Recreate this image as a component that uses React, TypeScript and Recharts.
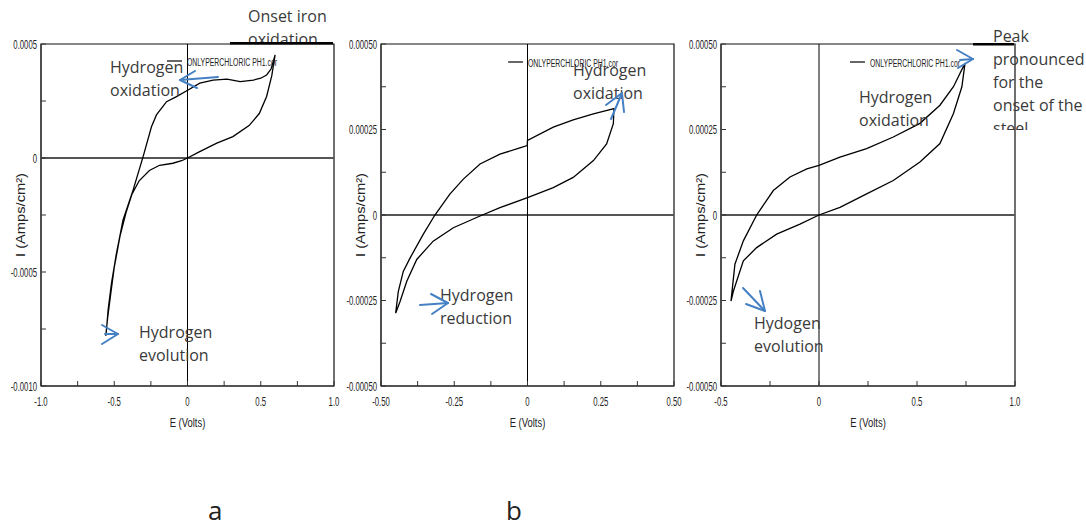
import React from "react";
import { LineChart, Line, XAxis, YAxis, ReferenceLine, ReferenceArea, Label } from "recharts";

// panel a: potential (V) and current (A/cm2), forward scan then return scan
const aE = [-0.558, -0.545, -0.525, -0.5, -0.46, -0.42, -0.38, -0.33, -0.26, -0.19, -0.1, -0.04, 0, 0.08, 0.2, 0.31, 0.42, 0.49, 0.54, 0.575, 0.598,
  0.57, 0.54, 0.5, 0.45, 0.36, 0.27, 0.175, 0.084, 0.004, -0.075, -0.143, -0.212, -0.246, -0.303, -0.371, -0.394, -0.44, -0.485, -0.519, -0.542, -0.553, -0.558];
const aI = [-0.00078, -0.0007, -0.0006, -0.00048, -0.00034, -0.00024, -0.00016, -0.0001, -0.000055, -0.000032, -0.000023, -0.000012, 0, 0.000027, 0.000065, 0.000094, 0.000142, 0.000195, 0.00027, 0.00036, 0.000452,
  0.00039, 0.000364, 0.00035, 0.000342, 0.000335, 0.000346, 0.000342, 0.000328, 0.000298, 0.000269, 0.000247, 0.000189, 0.000137, 0.000006, -0.00014, -0.000184, -0.000272, -0.000418, -0.00055, -0.000667, -0.000754, -0.00078];

// panel b
const bE = [-0.45, -0.435, -0.412, -0.378, -0.322, -0.253, -0.162, -0.094, 0, 0.088, 0.156, 0.225, 0.27, 0.293, 0.295,
  0.225, 0.156, 0.088, 0, -0.001, -0.026, -0.094, -0.162, -0.219, -0.265, -0.316, -0.356, -0.401, -0.424, -0.441, -0.45];
const bI = [-0.000287, -0.000253, -0.000194, -0.00013, -0.0000765, -0.0000373, -0.000003, 0.0000215, 0.0000509, 0.0000803, 0.00011, 0.000159, 0.000208, 0.000267, 0.000311,
  0.000296, 0.000278, 0.000257, 0.000218, 0.000203, 0.000196, 0.000178, 0.000149, 0.000105, 0.0000609, 0, -0.0000568, -0.000126, -0.000165, -0.000224, -0.000287];

// panel c
const cE = [-0.449, -0.437, -0.386, -0.318, -0.216, -0.097, 0, 0.107, 0.243, 0.379, 0.515, 0.617, 0.686, 0.729, 0.745,
  0.686, 0.617, 0.515, 0.379, 0.243, 0.107, 0, -0.062, -0.148, -0.233, -0.318, -0.386, -0.429, -0.449];
const cI = [-0.000252, -0.000223, -0.000134, -0.0000953, -0.0000559, -0.0000265, 0, 0.0000224, 0.0000618, 0.000101, 0.000155, 0.000209, 0.000297, 0.000375, 0.000444,
  0.000375, 0.000321, 0.000268, 0.000228, 0.000194, 0.000169, 0.000145, 0.000135, 0.000111, 0.0000715, 0, -0.0000756, -0.000144, -0.000252];

const aXTicks = [-1, -0.75, -0.5, -0.25, 0, 0.25, 0.5, 0.75, 1];
const aXLabels = ["-1.0", "", "-0.5", "", "0", "", "0.5", "", "1.0"];
const aYTicks = [-0.001, -0.00075, -0.0005, -0.00025, 0, 0.00025, 0.0005];
const aYLabels = ["-0.0010", "", "-0.0005", "", "0", "", "0.0005"];

const bXTicks = [-0.5, -0.375, -0.25, -0.125, 0, 0.125, 0.25, 0.375, 0.5];
const bXLabels = ["-0.50", "", "-0.25", "", "0", "", "0.25", "", "0.50"];
const cXTicks = [-0.5, -0.25, 0, 0.25, 0.5, 0.75, 1];
const cXLabels = ["-0.5", "", "0", "", "0.5", "", "1.0"];
const bcYTicks = [-0.0005, -0.000375, -0.00025, -0.000125, 0, 0.000125, 0.00025, 0.000375, 0.0005];
const bcYLabels = ["-0.00050", "", "-0.00025", "", "0", "", "0.00025", "", "0.00050"];

const legendName = "ONLYPERCHLORIC PH1.cor";

const toRows = (e: number[], i: number[]) => e.map((v, k) => ({ e: v, i: i[k] }));

const TICK_FONT = "'Liberation Sans', Arial, sans-serif";
const BLUE = "#4580c4";
const NOTE = "#3a3a3a";

function XTick(props: any) {
  const { x, y, payload, ticks, labels } = props;
  const label = labels[ticks.indexOf(payload.value)] || "";
  return (
    <g>
      <line x1={x} x2={x} y1={y} y2={y - 5} stroke="#333" strokeWidth={1} />
      {label && (
        <text transform={`translate(${x},${y + 20}) scale(0.62,1)`} textAnchor="middle" fontSize={12.5} fontFamily={TICK_FONT} fill="#222">
          {label}
        </text>
      )}
    </g>
  );
}

function YTick(props: any) {
  const { x, y, payload, ticks, labels } = props;
  const label = labels[ticks.indexOf(payload.value)] || "";
  return (
    <g>
      <line x1={x} x2={x + 5} y1={y} y2={y} stroke="#333" strokeWidth={1} />
      {label && (
        <text transform={`translate(${x - 4},${y + 4.5}) scale(0.62,1)`} textAnchor="end" fontSize={12.5} fontFamily={TICK_FONT} fill="#222">
          {label}
        </text>
      )}
    </g>
  );
}

type PanelProps = {
  left: number;
  rows: { e: number; i: number }[];
  xDomain: [number, number];
  xTicks: number[];
  xLabels: string[];
  yDomain: [number, number];
  yTicks: number[];
  yLabels: string[];
  marginRight: number;
};

function Panel({ left, rows, xDomain, xTicks, xLabels, yDomain, yTicks, yLabels, marginRight }: PanelProps) {
  return (
    <div style={{ position: "absolute", left, top: 0 }}>
      <LineChart width={345} height={440} margin={{ top: 44, right: marginRight, bottom: 0, left: 0 }}>
        <XAxis
          type="number"
          dataKey="e"
          domain={xDomain}
          ticks={xTicks}
          interval={0}
          allowDataOverflow
          height={54}
          tickSize={0}
          tickMargin={0}
          tickLine={false}
          axisLine={{ stroke: "#444", strokeWidth: 1.5 }}
          tick={(p: any) => <XTick {...p} ticks={xTicks} labels={xLabels} />}
        >
          <Label
            content={(p: any) => {
              const vb = p.viewBox;
              return (
                <text transform={`translate(${vb.x + vb.width / 2},${vb.y + 41}) scale(0.7,1)`} textAnchor="middle" fontSize={13.5} fontFamily={TICK_FONT} fill="#222">
                  E (Volts)
                </text>
              );
            }}
          />
        </XAxis>
        <YAxis
          type="number"
          dataKey="i"
          domain={yDomain}
          ticks={yTicks}
          interval={0}
          allowDataOverflow
          width={41}
          tickSize={0}
          tickMargin={0}
          tickLine={false}
          axisLine={{ stroke: "#444", strokeWidth: 1.5 }}
          tick={(p: any) => <YTick {...p} ticks={yTicks} labels={yLabels} />}
        >
          <Label
            content={(p: any) => {
              const vb = p.viewBox;
              const cx = vb.x + 25;
              const cy = vb.y + vb.height / 2;
              return (
                <text x={cx} y={cy} transform={`rotate(-90,${cx},${cy})`} textAnchor="middle" fontSize={13} fontFamily={TICK_FONT} fill="#222" textLength={84} lengthAdjust="spacingAndGlyphs">
                  I (Amps/cm²)
                </text>
              );
            }}
          />
        </YAxis>
        <ReferenceArea x1={xDomain[0]} x2={xDomain[1]} y1={yDomain[0]} y2={yDomain[1]} fill="none" stroke="#111" strokeWidth={1.2} />
        <ReferenceLine y={0} stroke="#555" strokeWidth={2} />
        <ReferenceLine x={0} stroke="#000" strokeWidth={1} />
        <Line data={rows} dataKey="i" type="linear" stroke="#000" strokeWidth={1.3} dot={false} isAnimationActive={false} />
      </LineChart>
    </div>
  );
}

function Note({ left, top, width, height, lines }: { left: number; top: number; width: number; height?: number; lines: string[] }) {
  return (
    <div
      style={{
        position: "absolute",
        left,
        top,
        width,
        height,
        overflow: "hidden",
        fontFamily: "'Open Sans', sans-serif",
        fontSize: 16,
        lineHeight: "23px",
        color: NOTE,
        whiteSpace: "nowrap",
      }}
    >
      {lines.map((l, k) => (
        <div key={k}>{l}</div>
      ))}
    </div>
  );
}

function LegendMark({ x, y }: { x: number; y: number }) {
  return (
    <g>
      <line x1={x} x2={x + 15} y1={y} y2={y} stroke="#000" strokeWidth={1.2} />
      <text x={x + 20} y={y + 5} fontSize={10} fontFamily={TICK_FONT} fill="#222" textLength={90} lengthAdjust="spacingAndGlyphs">
        {legendName}
      </text>
    </g>
  );
}

function Arrow({ shaft, head }: { shaft: number[]; head: number[] }) {
  return (
    <g stroke={BLUE} strokeWidth={2} fill="none" strokeLinecap="round" strokeLinejoin="round">
      <polyline points={shaft.join(",")} />
      <polyline points={head.join(",")} />
    </g>
  );
}

export default function App() {
  return (
    <div style={{ position: "absolute", left: 0, top: 0, width: 1086, height: 522, background: "#fff", overflow: "hidden" }}>
      <Panel left={0} rows={toRows(aE, aI)} xDomain={[-1, 1]} xTicks={aXTicks} xLabels={aXLabels} yDomain={[-0.001, 0.0005]} yTicks={aYTicks} yLabels={aYLabels} marginRight={11} />
      <Panel left={340} rows={toRows(bE, bI)} xDomain={[-0.5, 0.5]} xTicks={bXTicks} xLabels={bXLabels} yDomain={[-0.0005, 0.0005]} yTicks={bcYTicks} yLabels={bcYLabels} marginRight={11} />
      <Panel left={680} rows={toRows(cE, cI)} xDomain={[-0.5, 1]} xTicks={cXTicks} xLabels={cXLabels} yDomain={[-0.0005, 0.0005]} yTicks={bcYTicks} yLabels={bcYLabels} marginRight={10} />

      <Note left={248} top={5} width={90} height={39} lines={["Onset iron", "oxidation"]} />
      <Note left={110} top={56} width={80} lines={["Hydrogen", "oxidation"]} />
      <Note left={139} top={321} width={80} lines={["Hydrogen", "evolution"]} />
      <Note left={573} top={59} width={80} lines={["Hydrogen", "oxidation"]} />
      <Note left={440} top={284} width={80} lines={["Hydrogen", "reduction"]} />
      <Note left={859} top={86} width={80} lines={["Hydrogen", "oxidation"]} />
      <Note left={993} top={25} width={93} height={105} lines={["Peak", "pronounced", "for the", "onset of the", "steel"]} />
      <Note left={754} top={312} width={80} lines={["Hydogen", "evolution"]} />

      <svg width={1086} height={522} style={{ position: "absolute", left: 0, top: 0, pointerEvents: "none" }}>
        <rect x={230} y={42} width={103} height={2.5} fill="#000" />
        <rect x={973} y={43} width={41} height={2.5} fill="#000" />
        <LegendMark x={167} y={61} />
        <LegendMark x={508} y={62} />
        <LegendMark x={850} y={62} />
        <Arrow shaft={[218, 77, 180, 80]} head={[195, 71, 180, 80, 197, 88]} />
        <Arrow shaft={[105, 334, 118, 334]} head={[102, 325, 118, 334, 102, 344]} />
        <Arrow shaft={[611, 119, 622, 93]} head={[606, 105, 622, 93, 624, 112]} />
        <Arrow shaft={[420, 305, 448, 303]} head={[431, 294, 448, 303, 432, 314]} />
        <Arrow shaft={[960, 60, 973, 59]} head={[957, 50, 973, 59, 958, 68]} />
        <Arrow shaft={[743, 288, 765, 311]} head={[760, 291, 765, 311, 746, 304]} />
        <text x={208} y={520} fontSize={26} fontFamily="'Open Sans', sans-serif" fill="#222">a</text>
        <text x={506} y={520} fontSize={26} fontFamily="'Open Sans', sans-serif" fill="#222">b</text>
      </svg>
    </div>
  );
}
